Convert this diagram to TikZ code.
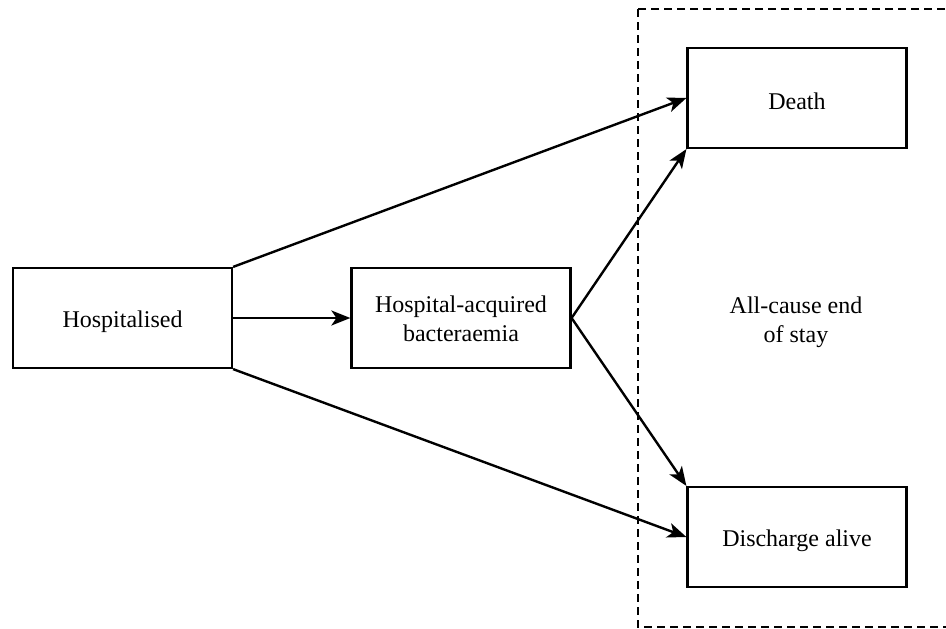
\documentclass[tikz,border=0pt]{standalone}
\usepackage{fontspec}
\setmainfont{Liberation Serif}
\usetikzlibrary{arrows.meta}
\newcommand{\dropit}[2]{\raisebox{-#1}[\height][\depth]{#2}}
\begin{document}
\begin{tikzpicture}[x=1pt,y=-1pt,
  box/.style={draw,line width=2.2pt,minimum width=219pt,minimum height=100pt,inner sep=0pt,font=\fontsize{24}{29}\selectfont,align=center},
  conn/.style={line width=2.4pt,-{Stealth[length=19pt,width=15pt,inset=5pt]}},
  lbl/.style={font=\fontsize{24}{29}\selectfont,align=center}]
\useasboundingbox (0,0) rectangle (946,629);
\clip (0,0) rectangle (946,629);
\draw[line width=2.2pt,dash pattern=on 8pt off 5pt] (638,9) rectangle (960,627);
\node[box] (hosp) at (122.5,318) {\dropit{4pt}{Hospitalised}};
\node[box] (bact) at (461,318) {\dropit{3pt}{\begin{tabular}{@{}c@{}}Hospital-acquired\\bacteraemia\end{tabular}}};
\node[box] (death) at (797,98) {\dropit{3pt}{Death}};
\node[box] (disc) at (797,537) {\dropit{4pt}{Discharge alive}};
\node[lbl] (end) at (796,322) {All-cause end\\of stay};
\draw[conn] (hosp.north east) -- (death.west);
\draw[conn] (hosp.east) -- (bact.west);
\draw[conn] (hosp.south east) -- (disc.west);
\draw[conn] (bact.east) -- (death.south west);
\draw[conn] (bact.east) -- (disc.north west);
\end{tikzpicture}
\end{document}
